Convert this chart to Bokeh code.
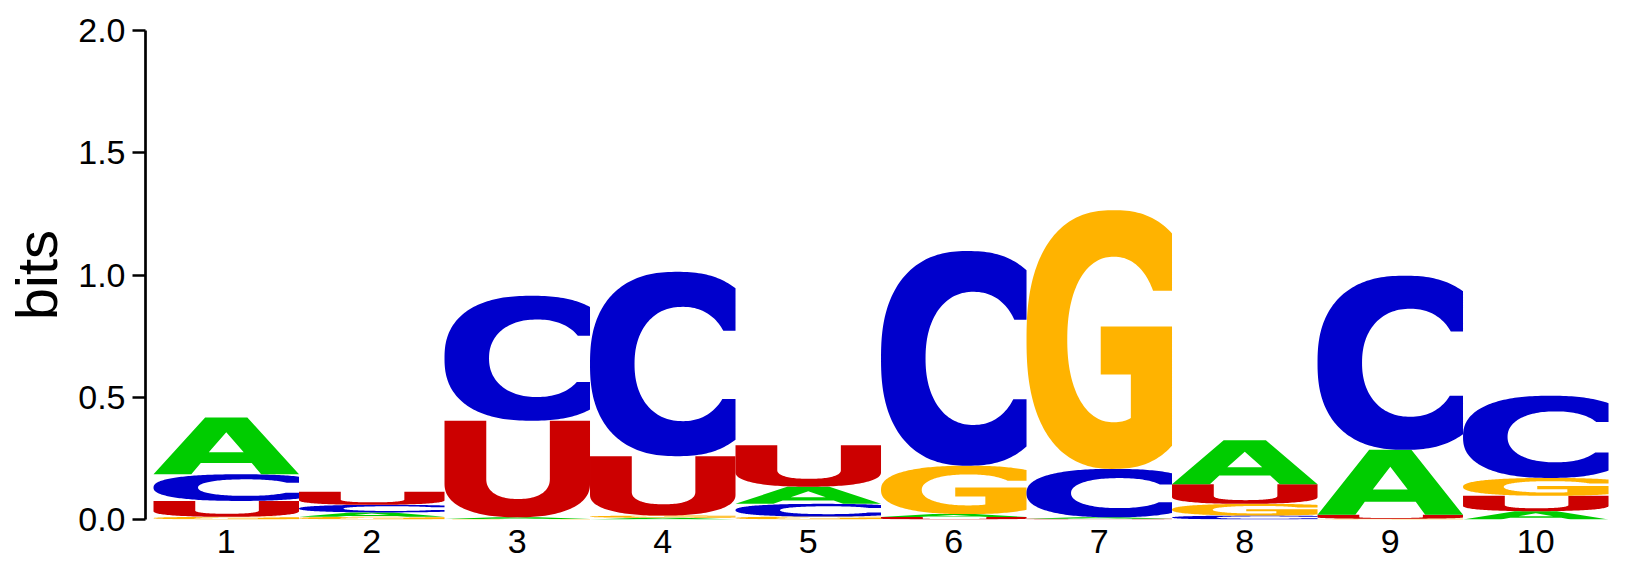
import numpy as np
from bokeh.plotting import figure
from bokeh.models import Range1d, FixedTicker, PrintfTickFormatter
from bokeh.embed import file_html
from bokeh.resources import INLINE

# sequence logo data (bits per base at each position)
positions = [1, 2, 3, 4, 5, 6, 7, 8, 9, 10]
bits_A = [0.232, 0.018, 0.007, 0.007, 0.070, 0.012, 0.006, 0.180, 0.266, 0.034]
bits_C = [0.109, 0.031, 0.511, 0.754, 0.052, 0.878, 0.198, 0.016, 0.712, 0.336]
bits_G = [0.011, 0.011, 0.002, 0.009, 0.012, 0.198, 1.058, 0.048, 0.003, 0.073]
bits_U = [0.065, 0.054, 0.395, 0.243, 0.170, 0.010, 0.003, 0.080, 0.016, 0.063]
y_ticks = [0.0, 0.5, 1.0, 1.5, 2.0]

colors = {"A": "#00cc00", "C": "#0000cc", "G": "#ffb300", "U": "#cc0000"}


# letter outlines in a unit box, stretched later to each stack slot
def sup(cx, cy, a, b, n, t):
    c, s = np.cos(t), np.sin(t)
    return (cx + a * np.sign(c) * np.abs(c) ** (2 / n),
            cy + b * np.sign(s) * np.abs(s) ** (2 / n))


def outer_bowl():
    cx, cy, a, b, n = 0.6, 0.5, 0.6, 0.5, 2.4
    t0 = np.arccos(((1 - cx) / a) ** (n / 2))
    t = np.linspace(t0, 2 * np.pi - t0, 160)
    return sup(cx, cy, a, b, n, t)


def glyph_C():
    ox, oy = outer_bowl()
    icx, icy, ia, ib, m = 0.636, 0.5, 0.33, 0.31, 2.2
    ta = np.arcsin(((0.68 - icy) / ib) ** (m / 2))
    tb = np.arcsin(((icy - 0.31) / ib) ** (m / 2))
    ix, iy = sup(icx, icy, ia, ib, m, np.linspace(2 * np.pi - tb, ta, 120))
    xs = list(ox) + [1.0] + list(ix) + [1.0]
    ys = list(oy) + [0.31] + list(iy) + [0.68]
    return [(xs, ys)]


def glyph_G():
    ox, oy = outer_bowl()
    icx, icy, ia, ib, m = 0.60, 0.5, 0.32, 0.32, 2.2
    ta = np.arcsin(((0.689 - icy) / ib) ** (m / 2))
    tb = np.arccos(((0.717 - icx) / ia) ** (m / 2))
    ix, iy = sup(icx, icy, ia, ib, m, np.linspace(2 * np.pi - tb, ta, 120))
    xs = list(ox) + [1.0, 0.51, 0.51, 0.717] + list(ix) + [1.0]
    ys = list(oy) + [0.55, 0.55, 0.365, 0.365] + list(iy) + [0.689]
    return [(xs, ys)]


def glyph_U():
    ox, oy = sup(0.5, 0.35, 0.5, 0.35, 2.3, np.linspace(np.pi, 2 * np.pi, 80))
    ix, iy = sup(0.5055, 0.40, 0.2185, 0.21, 2.3, np.linspace(2 * np.pi, np.pi, 60))
    xs = [0.0] + list(ox) + [1.0, 0.724] + list(ix) + [0.287]
    ys = [1.0] + list(oy) + [1.0, 1.0] + list(iy) + [1.0]
    return [(xs, ys)]


def glyph_A():
    outer = ([0, 0.355, 0.645, 1, 0.74, 0.675, 0.325, 0.26],
             [0, 1, 1, 0, 0, 0.2, 0.2, 0])
    hole = ([0.38, 0.62, 0.5], [0.39, 0.39, 0.74])
    return [outer, hole]


shapes = {"A": glyph_A(), "C": glyph_C(), "G": glyph_G(), "U": glyph_U()}
table = {"A": bits_A, "C": bits_C, "G": bits_G, "U": bits_U}

xs, ys, fills = [], [], []
for i, pos in enumerate(positions):
    stack = sorted(table, key=lambda k: table[k][i])
    base = 0.0
    for letter in stack:
        h = table[letter][i]
        rings_x = [list(pos - 0.5 + np.asarray(rx)) for rx, ry in shapes[letter]]
        rings_y = [list(base + h * np.asarray(ry)) for rx, ry in shapes[letter]]
        xs.append([rings_x])
        ys.append([rings_y])
        fills.append(colors[letter])
        base += h

p = figure(frame_width=1477, frame_height=489, output_backend="svg", toolbar_location=None,
           x_range=Range1d(0.445, 10.596), y_range=Range1d(0, 2),
           min_border_left=145, min_border_top=30, min_border_right=8, min_border_bottom=46)
p.outline_line_color = None
p.xgrid.visible = False
p.ygrid.visible = False

p.multi_polygons(xs=xs, ys=ys, fill_color=fills, line_color=None)

p.yaxis.ticker = FixedTicker(ticks=y_ticks)
p.yaxis.formatter = PrintfTickFormatter(format="%.1f")
p.yaxis.axis_label = "bits"
p.yaxis.axis_label_text_font = "Liberation Sans"
p.yaxis.axis_label_text_font_size = "58px"
p.yaxis.axis_label_text_font_style = "normal"
p.yaxis.axis_label_text_color = "black"
p.yaxis.axis_label_standoff = 6
p.yaxis.major_label_text_font = "Liberation Sans"
p.yaxis.major_label_text_font_size = "34px"
p.yaxis.major_label_text_color = "black"
p.yaxis.major_label_standoff = 7
p.yaxis.axis_line_width = 2.7
p.yaxis.major_tick_line_width = 2.7
p.yaxis.major_tick_out = 13
p.yaxis.major_tick_in = 0
p.yaxis.minor_tick_line_color = None

p.xaxis.ticker = FixedTicker(ticks=positions)
p.xaxis.major_label_text_font = "Liberation Sans"
p.xaxis.major_label_text_font_size = "34px"
p.xaxis.major_label_text_color = "black"
p.xaxis.major_label_standoff = 4
p.xaxis.axis_line_color = None
p.xaxis.major_tick_line_color = None
p.xaxis.minor_tick_line_color = None

open("out.html", "w").write(file_html(p, INLINE))
